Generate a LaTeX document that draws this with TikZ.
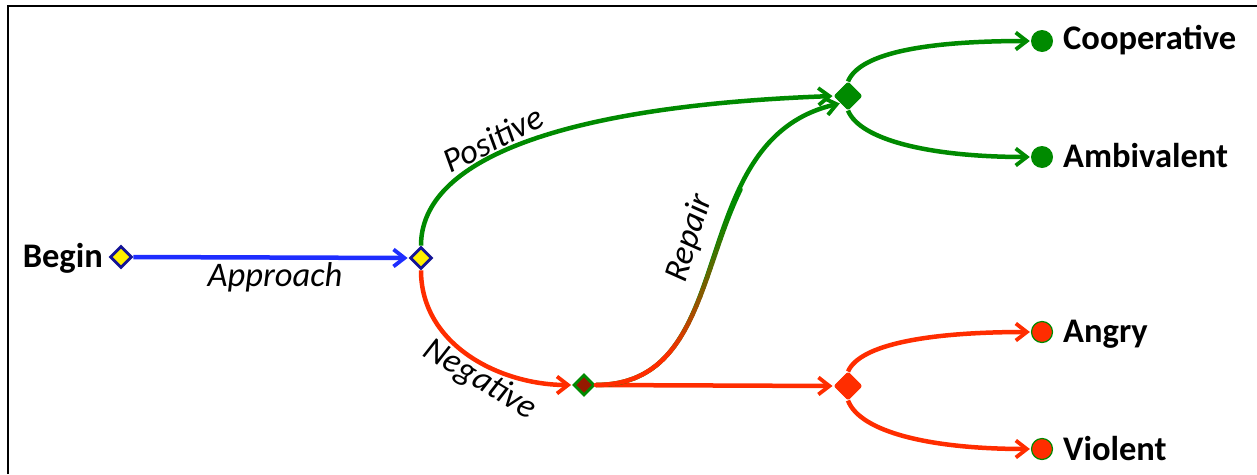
\documentclass[tikz,border=0pt]{standalone}
\usepackage{fontspec}
\setmainfont{Carlito}
\usetikzlibrary{arrows.meta,shapes.geometric}
\definecolor{mygreen}{RGB}{0,138,0}
\definecolor{myred}{RGB}{255,45,0}
\definecolor{myblue}{RGB}{30,45,255}
\definecolor{mynavy}{RGB}{20,20,150}
\definecolor{mydark}{RGB}{150,25,0}
\definecolor{myyellow}{RGB}{255,240,0}
\tikzset{
  conn/.style={line width=4.5pt,-{Straight Barb[length=11pt,width=17pt,line width=3.8pt]},shorten >=1pt},
  bl/.style={conn,draw=myblue},
  gr/.style={conn,draw=mygreen},
  rd/.style={conn,draw=myred},
  ydia/.style={diamond,aspect=1,inner sep=0pt,minimum size=22pt,fill=myyellow,draw=mynavy,line width=2.8pt},
  sdia/.style={diamond,aspect=1,inner sep=0pt,minimum size=21pt,fill=mydark,draw=mygreen,line width=2.8pt},
  gdia/.style={diamond,aspect=1,inner sep=0pt,minimum size=28pt,fill=mygreen,draw=mygreen,line width=1pt,rounded corners=2pt},
  rdia/.style={diamond,aspect=1,inner sep=0pt,minimum size=28pt,fill=myred,draw=myred,line width=1pt,rounded corners=2pt},
  gdot/.style={circle,inner sep=0pt,minimum size=22pt,fill=mygreen},
  rdot/.style={circle,inner sep=0pt,minimum size=21pt,fill=myred,draw=mygreen,line width=1.2pt},
  nmtext/.style={font=\fontsize{34.5}{40}\selectfont\bfseries,inner sep=0pt},
  lbltext/.style={font=\fontsize{34.5}{40}\selectfont\itshape,inner sep=0pt}
}
\begin{document}
\begin{tikzpicture}[x=1pt,y=-1pt]
\useasboundingbox (0,0) rectangle (1257,474);
\draw[line width=2.5pt] (8,474) -- (8,6) -- (1257,6);
% nodes
\node[ydia] (begin) at (121,257) {};
\node[ydia] (split) at (421,258) {};
\node[sdia] (neg) at (584,385) {};
\node[gdia] (gj) at (848,96) {};
\node[rdia] (rj) at (848,386) {};
\node[gdot] (coop) at (1042,41) {};
\node[gdot] (amb) at (1042,157) {};
\node[rdot] (angry) at (1042,332) {};
\node[rdot] (viol) at (1042,449) {};
% names
\node[nmtext,anchor=base east] (tbegin) at (103,267) {Begin};
\node[nmtext,anchor=base west] (tcoop) at (1063,49) {Cooperative};
\node[nmtext,anchor=base west] (tamb) at (1063,167) {Ambivalent};
\node[nmtext,anchor=base west] (tangry) at (1063,342) {Angry};
\node[nmtext,anchor=base west] (tviol) at (1063,460) {Violent};
% connectors
\draw[bl] (begin.east) -- (split.west);
\draw[gr] (split.north) .. controls (421,160) and (560,106) .. (gj.west);
\draw[rd] (split.south) .. controls (421,345) and (500,385) .. (neg.west);
\draw[rd] (neg.east) -- (rj.west);
% repair with gradient
\draw[gr] (neg.east) .. controls (745,385) and (680,140) .. (gj.south west);
\path (neg.east) .. controls (745,385) and (680,140) .. (gj.south west)
  \foreach \i in {0,...,40}{ coordinate[pos=\i/40] (rp\i) };
\foreach \i in {0,...,26}{
  \pgfmathtruncatemacro\j{\i+1}
  \pgfmathtruncatemacro\f{min(100,max(0,((\i+0.5)/40-0.22)/0.4*100))}
  \draw[line width=4.5pt,line cap=round,draw=mygreen!\f!myred] (rp\i) -- (rp\j);
}
\draw[gr] (gj.north) .. controls (860,52) and (930,41) .. (coop.west);
\draw[gr] (gj.south) .. controls (860,140) and (930,157) .. (amb.west);
\draw[rd] (rj.north) .. controls (860,344) and (930,332) .. (angry.west);
\draw[rd] (rj.south) .. controls (860,432) and (930,449) .. (viol.west);
% labels
\node[lbltext,anchor=base] (lapp) at (275,286) {Approach};
\node[lbltext,rotate=27] (lpos) at (493,139) {Positive};
\node[lbltext,rotate=-31] (lneg) at (480,380) {Negative};
\node[lbltext,rotate=73] (lrep) at (690,238) {Repair};
\end{tikzpicture}
\end{document}
